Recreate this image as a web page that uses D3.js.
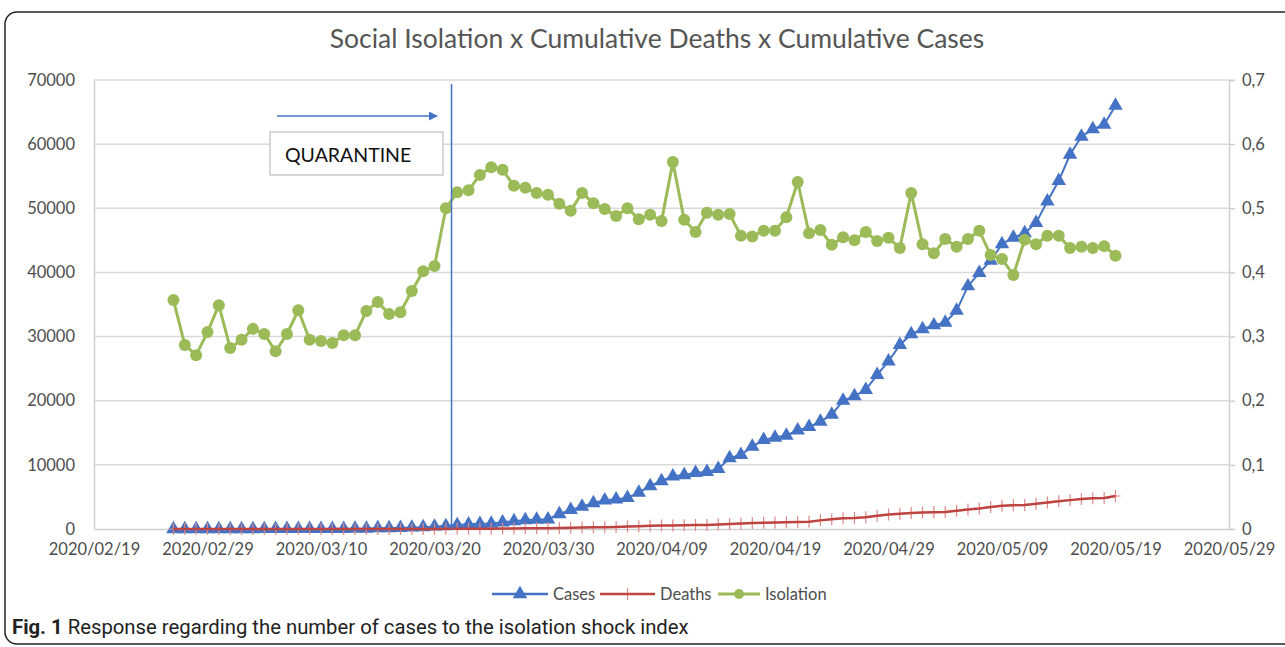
<!DOCTYPE html>
<html>
<head>
<meta charset="utf-8">
<script src="https://cdn.jsdelivr.net/npm/d3@7"></script>
<style>
  body { margin: 0; background: #fff; }
  #graf { width: 1285px; height: 647px; }
  .tick text { font-family: Lato, sans-serif; font-size: 16.5px; fill: #4d4d4d; }
</style>
</head>
<body>
<div id="graf"></div>
<script>
// Datos
const firstDay = "2020/02/26"
const lastDay = "2020/05/19"
const quarantineDay = "2020/03/21 12"
const xTicks = ["2020/02/19", "2020/02/29", "2020/03/10", "2020/03/20", "2020/03/30", "2020/04/09",
                "2020/04/19", "2020/04/29", "2020/05/09", "2020/05/19", "2020/05/29"]
const leftTicks = [0, 10000, 20000, 30000, 40000, 50000, 60000, 70000]
const rightTicks = [0, 0.1, 0.2, 0.3, 0.4, 0.5, 0.6, 0.7]

const cases = [1, 1, 1, 2, 2, 2, 2, 3, 6, 10, 13, 16, 16, 19, 30, 42, 56, 65, 136, 152, 164, 240, 286, 396,
  459, 631, 745, 810, 862, 1052, 1223, 1406, 1451, 1517, 2339,
  2981, 3506, 4048, 4466, 4620, 4866, 5682, 6708, 7480, 8216, 8419, 8755, 8895, 9371, 11043, 11568,
  12841, 13894, 14267, 14580, 15385, 15914, 16740, 17826, 20004, 20715, 21696, 24041, 26158, 28698,
  30374, 31174, 31772, 32187, 34053, 37853, 39928, 41830, 44411, 45444, 46131, 47719, 51097, 54286,
  58378, 61183, 62345, 63066, 65995]

const deaths = [0, 0, 0, 0, 0, 0, 0, 0, 0, 0, 0, 0, 0, 0, 0, 0, 0, 0, 0, 0,
  1, 4, 9, 15, 22, 30, 40, 48, 58, 68, 84, 98, 113, 136, 164,
  188, 219, 260, 275, 304, 371, 428, 496, 540, 560, 588, 608, 640, 695, 778, 853, 928, 991, 1015,
  1037, 1093, 1134, 1345, 1512, 1667, 1700, 1825, 2049, 2247, 2375,
  2511, 2586, 2627, 2654, 2851, 3045, 3206, 3416, 3608, 3709, 3743, 3949, 4118, 4315, 4501, 4688,
  4782, 4823, 5147]

const isolation = [0.357, 0.287, 0.271, 0.307, 0.349, 0.282, 0.295, 0.312, 0.304, 0.277, 0.304, 0.341,
  0.295, 0.293, 0.29, 0.302, 0.302, 0.34, 0.354, 0.335, 0.338, 0.371, 0.402, 0.41, 0.5, 0.525, 0.528,
  0.552, 0.564, 0.56, 0.535, 0.532, 0.524, 0.521, 0.507, 0.496, 0.524, 0.508, 0.499, 0.488, 0.5, 0.483,
  0.49, 0.48, 0.572, 0.482, 0.463, 0.493, 0.49, 0.491, 0.457, 0.456, 0.465, 0.465, 0.486, 0.541, 0.461,
  0.466, 0.443, 0.455, 0.45, 0.463, 0.449, 0.454, 0.438, 0.524, 0.444, 0.43, 0.452, 0.44, 0.452, 0.465,
  0.427, 0.421, 0.396, 0.451, 0.444, 0.457, 0.457, 0.438, 0.44, 0.438, 0.441, 0.426]

const parse = d3.timeParse("%Y/%m/%d")
const fmt = d3.timeFormat("%Y/%m/%d")
const dias = d3.timeDay.range(parse(firstDay), d3.timeDay.offset(parse(lastDay), 1))
const data = dias.map((d, i) => ({ fecha: d, cases: cases[i], deaths: deaths[i], isolation: isolation[i] }))

// Dimensiones
const margins = { top: 80, right: 56, bottom: 118, left: 94 }
const anchoTotal = 1285
const altoTotal = 647
const ancho = anchoTotal - margins.left - margins.right
const alto = altoTotal - margins.top - margins.bottom

const colores = { cases: "#4472C4", deaths: "#BE4441", isolation: "#9BBB59" }

const svg = d3.select("#graf").append("svg")
    .attr("width", anchoTotal)
    .attr("height", altoTotal)

// marco
svg.append("rect")
    .attr("x", 5).attr("y", 12)
    .attr("width", 1320).attr("height", 632)
    .attr("rx", 12)
    .attr("fill", "none")
    .attr("stroke", "#222")
    .attr("stroke-width", 1.5)

// titulo
svg.append("text")
    .attr("x", 657).attr("y", 48)
    .attr("text-anchor", "middle")
    .attr("font-family", "Lato, sans-serif")
    .attr("font-size", 26.5)
    .attr("fill", "#555")
    .text("Social Isolation x Cumulative Deaths x Cumulative Cases")

const g = svg.append("g").attr("transform", `translate(${margins.left}, ${margins.top})`)

// Escaladores
const x = d3.scaleTime().domain([parse(xTicks[0]), parse(xTicks[xTicks.length - 1])]).range([0, ancho])
const y = d3.scaleLinear().domain([0, 70000]).range([alto, 0])
const y2 = d3.scaleLinear().domain([0, 0.7]).range([alto, 0])

// grilla
g.selectAll(".grid").data(leftTicks.slice(1)).enter()
    .append("line")
    .attr("x1", 0).attr("x2", ancho)
    .attr("y1", d => y(d)).attr("y2", d => y(d))
    .attr("stroke", "#d9d9d9").attr("stroke-width", 1.5)

// Ejes
const xAxis = g.append("g").attr("transform", `translate(0,${alto})`)
    .call(d3.axisBottom(x).tickValues(xTicks.map(parse)).tickFormat(fmt).tickSize(0).tickPadding(14))
xAxis.select(".domain").attr("stroke", "#d0d0d0").attr("stroke-width", 1.5)

const yAxis = g.append("g")
    .call(d3.axisLeft(y).tickValues(leftTicks).tickFormat(d3.format("d")).tickSize(0).tickPadding(19))
yAxis.select(".domain").attr("stroke", "#d0d0d0").attr("stroke-width", 1.5)

const y2Axis = g.append("g").attr("transform", `translate(${ancho},0)`)
    .call(d3.axisRight(y2).tickValues(rightTicks).tickFormat(d => d === 0 ? "0" : d3.format(".1f")(d).replace(".", ",")).tickSize(6).tickPadding(7))
y2Axis.select(".domain").attr("stroke", "#d0d0d0").attr("stroke-width", 1.5)
y2Axis.selectAll(".tick line").attr("stroke", "#d0d0d0").attr("stroke-width", 1.5)
g.selectAll(".tick text").attr("fill", "#4d4d4d")

// Series
const lineCases = d3.line().x(d => x(d.fecha)).y(d => y(d.cases))
const lineDeaths = d3.line().x(d => x(d.fecha)).y(d => y(d.deaths))
const lineIso = d3.line().x(d => x(d.fecha)).y(d => y2(d.isolation))

const tri = d3.symbol().type(d3.symbolTriangle).size(90)
const plus = "M-5,0H5M0,-6V6"

g.append("path").datum(data).attr("d", lineCases)
    .attr("fill", "none").attr("stroke", colores.cases).attr("stroke-width", 2)
g.selectAll(".tri").data(data).enter().append("path")
    .attr("d", tri).attr("transform", d => `translate(${x(d.fecha)},${y(d.cases)})`)
    .attr("fill", colores.cases)

// marcadores + debajo de la linea
g.selectAll(".plus").data(data).enter().append("path")
    .attr("d", plus).attr("transform", d => `translate(${x(d.fecha)},${y(d.deaths)})`)
    .attr("stroke", "#DE8987").attr("stroke-width", 1.2).attr("fill", "none")
g.append("path").datum(data).attr("d", lineDeaths)
    .attr("fill", "none").attr("stroke", colores.deaths).attr("stroke-width", 2.5)

g.append("path").datum(data).attr("d", lineIso)
    .attr("fill", "none").attr("stroke", colores.isolation).attr("stroke-width", 3)
g.selectAll(".dot").data(data).enter().append("circle")
    .attr("cx", d => x(d.fecha)).attr("cy", d => y2(d.isolation))
    .attr("r", 6).attr("fill", colores.isolation)

// Cuarentena
const xq = x(d3.timeParse("%Y/%m/%d %H")(quarantineDay))
g.append("line")
    .attr("x1", xq).attr("x2", xq).attr("y1", 4).attr("y2", alto)
    .attr("stroke", "#4472C4").attr("stroke-width", 1.5)

svg.append("defs").append("marker")
    .attr("id", "flecha").attr("viewBox", "0 0 10 10")
    .attr("refX", 9).attr("refY", 5)
    .attr("markerWidth", 6).attr("markerHeight", 6)
    .attr("orient", "auto")
    .append("path").attr("d", "M0,0L10,5L0,10z").attr("fill", "#4472C4")

svg.append("line")
    .attr("x1", 277).attr("x2", 437).attr("y1", 116).attr("y2", 116)
    .attr("stroke", "#4472C4").attr("stroke-width", 1.5)
    .attr("marker-end", "url(#flecha)")

svg.append("rect")
    .attr("x", 270).attr("y", 132).attr("width", 173).attr("height", 43)
    .attr("fill", "#fff").attr("stroke", "#bfbfbf").attr("stroke-width", 1.2)
svg.append("text")
    .attr("x", 285).attr("y", 162)
    .attr("font-family", "Lato, sans-serif").attr("font-size", 19.5)
    .attr("fill", "#111")
    .text("QUARANTINE")

// Leyenda
const leyenda = [
  { nombre: "Cases", color: colores.cases, x1: 492, x2: 548, tipo: "tri" },
  { nombre: "Deaths", color: colores.deaths, x1: 600, x2: 655, tipo: "plus" },
  { nombre: "Isolation", color: colores.isolation, x1: 718, x2: 760, tipo: "dot" },
]
const ly = 594
leyenda.forEach(l => {
  const cx = (l.x1 + l.x2) / 2
  if (l.tipo === "plus") {
    svg.append("path").attr("d", plus).attr("transform", `translate(${cx},${ly})`)
       .attr("stroke", "#DE8987").attr("stroke-width", 1.2)
  }
  svg.append("line").attr("x1", l.x1).attr("x2", l.x2).attr("y1", ly).attr("y2", ly)
     .attr("stroke", l.color).attr("stroke-width", l.tipo === "dot" ? 3 : 2.5)
  if (l.tipo === "tri") {
    svg.append("path").attr("d", tri).attr("transform", `translate(${cx},${ly})`).attr("fill", l.color)
  } else if (l.tipo === "dot") {
    svg.append("circle").attr("cx", cx).attr("cy", ly).attr("r", 5).attr("fill", l.color)
  }
  svg.append("text").attr("x", l.x2 + 5).attr("y", ly + 6)
     .attr("font-family", "Lato, sans-serif").attr("font-size", 16.5).attr("fill", "#4d4d4d")
     .text(l.nombre)
})

// Pie de figura
const cap = svg.append("text")
    .attr("x", 12).attr("y", 634)
    .attr("font-family", "Roboto, sans-serif").attr("font-size", 20.3).attr("fill", "#222")
cap.append("tspan").attr("font-weight", "bold").text("Fig. 1")
cap.append("tspan").text(" Response regarding the number of cases to the isolation shock index")
</script>
</body>
</html>
